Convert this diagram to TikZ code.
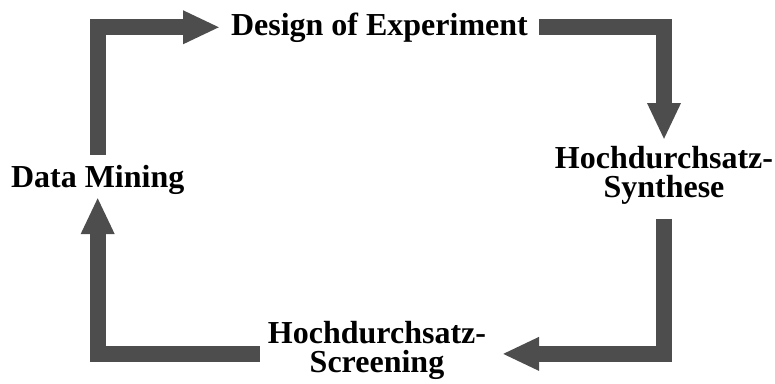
\documentclass[tikz,border=0pt]{standalone}
\usepackage{fontspec}
\setmainfont{Liberation Serif}
\usetikzlibrary{arrows.meta}
\definecolor{arrowgray}{RGB}{77,77,77}
\tikzset{
  label/.style={inner sep=0pt, outer sep=0pt, font=\fontsize{32}{29.5}\selectfont\bfseries, align=center, text=black},
  flow/.style={draw=arrowgray, line width=16pt, line join=miter, line cap=butt,
    -{Triangle[width=31pt,length=37pt]}, arrowgray}
}
\begin{document}
\begin{tikzpicture}[x=1pt,y=-1pt]
\useasboundingbox (0,0) rectangle (775,383);
\node[label, anchor=base west] (doe) at (231,35) {Design of Experiment};
\node[label, anchor=base west] (dm) at (11,187) {Data Mining};
\node[label, anchor=north] (syn) at (664,146) {Hochdurchsatz-\\Synthese};
\node[label, anchor=north] (scr) at (377,321) {Hochdurchsatz-\\Screening};
\draw[flow, shorten <=10pt, shorten >=11pt] (dm.north) |- (doe.west);
\draw[flow, shorten <=11pt, shorten >=6pt] (doe.east) -| (syn.north);
\draw[flow, shorten <=14pt, shorten >=16pt] (syn.south) |- ([yshift=-3.5pt]scr.east);
\draw[flow, shorten <=8pt, shorten >=3pt] ([yshift=-3.5pt]scr.west) -| (dm.south);
\end{tikzpicture}
\end{document}
